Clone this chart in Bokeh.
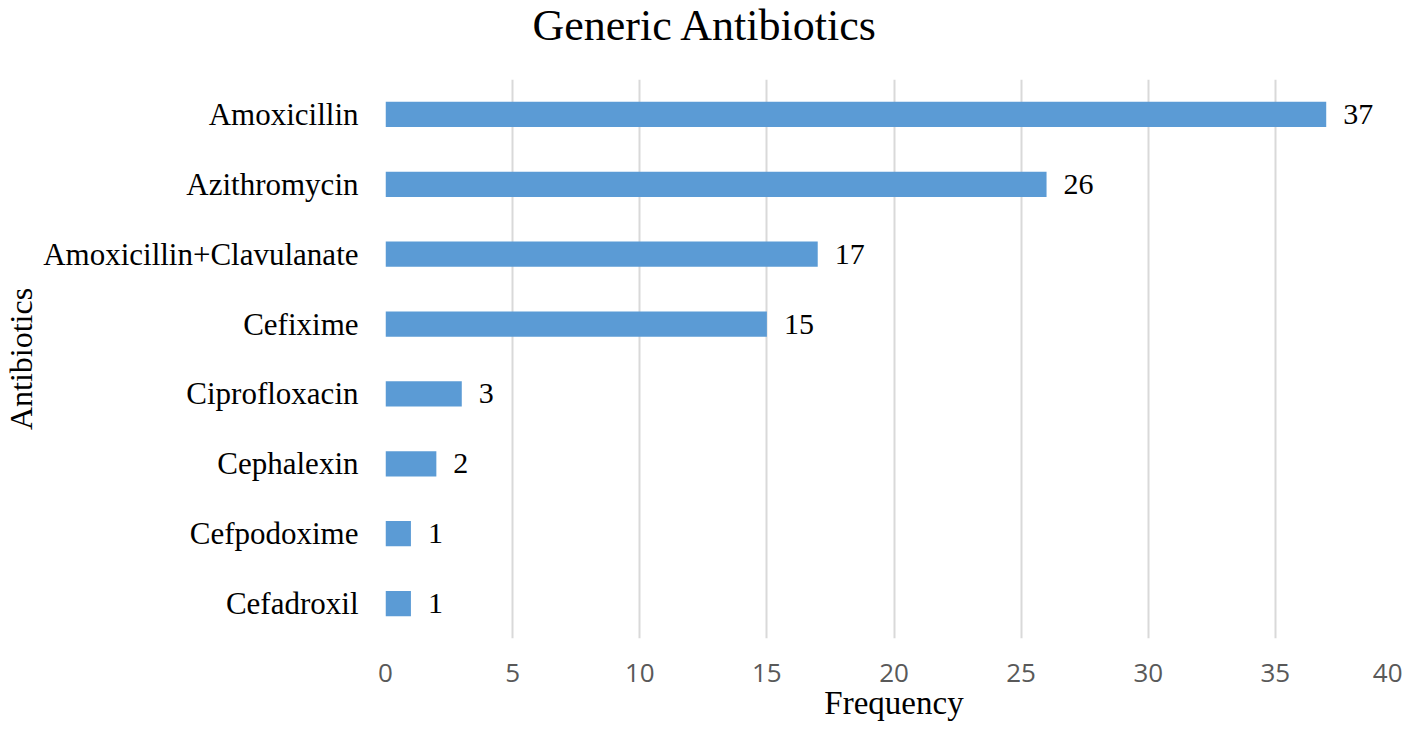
from bokeh.plotting import figure
from bokeh.models import FactorRange, Range1d, FixedTicker, ColumnDataSource, LabelSet, Title
from bokeh.embed import file_html
from bokeh.resources import INLINE

names = ["Amoxicillin", "Azithromycin", "Amoxicillin+Clavulanate", "Cefixime",
         "Ciprofloxacin", "Cephalexin", "Cefpodoxime", "Cefadroxil"]
counts = [37, 26, 17, 15, 3, 2, 1, 1]
x_ticks = [0, 5, 10, 15, 20, 25, 30, 35, 40]

src = ColumnDataSource(dict(name=names, count=counts, label=[str(c) for c in counts]))

p = figure(width=1402, height=723, output_backend="svg", toolbar_location=None,
           y_range=FactorRange(factors=list(reversed(names)), range_padding=0),
           x_range=Range1d(0, 40),
           min_border_left=375, min_border_right=0, min_border_top=0, min_border_bottom=0)

p.title = None
# spacer between the title and the plot frame
p.add_layout(Title(text=" ", text_font_size="1px", standoff=25), "above")
p.add_layout(Title(text="Generic Antibiotics", align="left", offset=147,
                   vertical_align="top",
                   text_font="Liberation Serif", text_font_size="44px",
                   text_font_style="normal", text_color="#000000", standoff=0), "above")

p.hbar(y="name", right="count", left=0, height=0.36, source=src,
       fill_color="#5B9BD5", line_color=None)

labels = LabelSet(x="count", y="name", text="label", source=src, x_offset=17,
                  text_baseline="middle", text_align="left",
                  text_font="Liberation Serif", text_font_size="30px", text_color="#000000")
p.add_layout(labels)

p.outline_line_color = None
p.ygrid.grid_line_color = None
p.xgrid.grid_line_color = "#D9D9D9"
p.xgrid.grid_line_width = 2

p.xaxis.ticker = FixedTicker(ticks=x_ticks)
p.xaxis.axis_line_color = None
p.xaxis.major_tick_line_color = None
p.xaxis.minor_tick_line_color = None
p.xaxis.major_label_text_font = "Open Sans"
p.xaxis.major_label_text_font_size = "26px"
p.xaxis.major_label_text_color = "#595959"
p.xaxis.major_label_standoff = 19
p.xaxis.axis_label = "Frequency"
p.xaxis.axis_label_text_font = "Liberation Serif"
p.xaxis.axis_label_text_font_size = "33px"
p.xaxis.axis_label_text_font_style = "normal"
p.xaxis.axis_label_text_color = "#000000"
p.xaxis.axis_label_standoff = 0

p.yaxis.axis_line_color = None
p.yaxis.major_tick_line_color = None
p.yaxis.minor_tick_line_color = None
p.yaxis.major_label_text_font = "Liberation Serif"
p.yaxis.major_label_text_font_size = "31px"
p.yaxis.major_label_text_color = "#000000"
p.yaxis.major_label_standoff = 21
p.yaxis.axis_label = "Antibiotics"
p.yaxis.axis_label_text_font = "Liberation Serif"
p.yaxis.axis_label_text_font_size = "32px"
p.yaxis.axis_label_text_font_style = "normal"
p.yaxis.axis_label_text_color = "#000000"
p.yaxis.axis_label_standoff = 1

open("out.html", "w").write(file_html(p, INLINE))
